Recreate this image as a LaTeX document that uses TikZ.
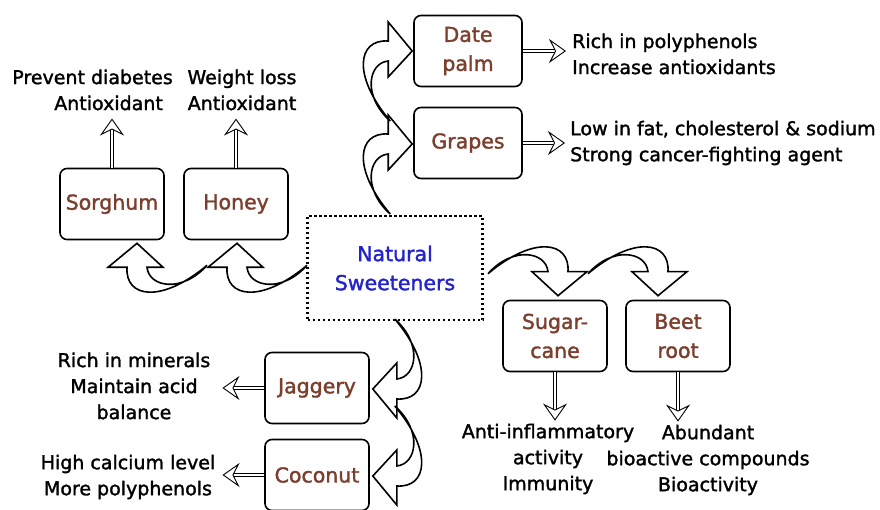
\documentclass[tikz,border=0pt]{standalone}
\usepackage{fontspec}
\setmainfont{DejaVu Sans}[FakeBold=1.6]
\usetikzlibrary{arrows.meta,positioning,calc}
\definecolor{nsbrown}{HTML}{7B3F2E}
\definecolor{nsblue}{HTML}{2323CC}

\tikzset{
  food/.style={draw, line width=1.6pt, rounded corners=7pt, fill=white,
    minimum width=104pt, minimum height=71pt, inner sep=2pt,
    text=nsbrown, align=center, font=\fontsize{20.5}{29}\selectfont},
  effect/.style={inner sep=0pt, align=center, font=\fontsize{19}{26}\selectfont},
  shaftout/.style={draw=black, line width=4.8pt, shorten >=11pt},
  shaftin/.style={draw=white, line width=2.8pt, shorten >=10pt},
  shafttip/.style={draw=white, line width=0.2pt,
    -{Stealth[length=17pt, width=24pt, inset=6pt, line width=0.9pt, color=black, fill=white]}},
  bendarrow/.style={draw, line width=1.6pt, fill=white, line join=miter},
  pics/bend/.style={code={
    \draw[bendarrow] (0,0) -- (26,24) -- (10,24)
      .. controls (12,44) and (45,50) .. (70,22)
      .. controls (25,60) and (-12,55) .. (-10,24) -- (-29,24) -- cycle;
  }},
}
\newcommand{\thinarrow}[2]{%
  \draw[shaftout] (#1) -- (#2);
  \draw[shaftin] (#1) -- (#2);
  \draw[shafttip] (#1) -- (#2);}

\begin{document}
\begin{tikzpicture}[x=1pt, y=-1pt, line cap=butt]
\path[use as bounding box, fill=white] (0,0) rectangle (880,510);
\clip (0,0) rectangle (880,510);

% ---------- centre ----------
\node[draw, line width=2.2pt, dash pattern=on 2.2pt off 2.8pt, minimum width=175pt, minimum height=104pt,
  align=center, text=nsblue, font=\fontsize{20.5}{29}\selectfont] (sweeteners) at (395,268) {Natural\\Sweeteners};

% ---------- sources ----------
\node[food] (sorghum) at (112,204) {Sorghum};
\node[food] (honey) at (236,204) {Honey};
\node[food, minimum width=108pt] (datepalm) at (468,51) {Date\\palm};
\node[food, minimum width=108pt] (grapes) at (468,143) {Grapes};
\node[food] (sugarcane) at (555,336) {Sugar-\\cane};
\node[food] (beetroot) at (678,336) {Beet\\root};
\node[food] (jaggery) at (317,388) {Jaggery};
\node[food] (coconut) at (317,475) {Coconut};

% ---------- benefits ----------
\node[effect, align=right, anchor=east] (sorgtxt) at (173,90) {Prevent diabetes\\Antioxidant\hspace*{10pt}};
\node[effect] (honeytxt) at (242,90) {Weight loss\\Antioxidant};
\node[effect, align=left, anchor=west] (datetxt) at (572,54) {Rich in polyphenols\\Increase antioxidants};
\node[effect, align=left, anchor=west] (grapetxt) at (570,143) {Low in fat, cholesterol \& sodium\\Strong cancer-fighting agent};
\node[effect] (jaggtxt) at (134,386) {Rich in minerals\\Maintain acid\\balance};
\node[effect] (cocotxt) at (128,477) {High calcium level\\More polyphenols};
\node[effect] (sugartxt) at (548,459) {Anti-inflammatory\\activity\\Immunity};
\node[effect] (beettxt) at (708,460) {Abundant\\bioactive compounds\\Bioactivity};

% ---------- double arrows ----------
\thinarrow{sorghum.north}{$(sorghum.north |- sorgtxt.south)+(0,8)$}
\thinarrow{honey.north}{$(honey.north |- honeytxt.south)+(0,8)$}
\thinarrow{datepalm.east}{$(datepalm.east -| datetxt.west)+(-6,0)$}
\thinarrow{grapes.east}{$(grapes.east -| grapetxt.west)+(-5,0)$}
\thinarrow{jaggery.west}{$(jaggery.west -| jaggtxt.east)+(12,0)$}
\thinarrow{coconut.west}{$(coconut.west -| cocotxt.east)+(7,0)$}
\thinarrow{sugarcane.south}{$(sugarcane.south |- sugartxt.north)+(0,-3)$}
\thinarrow{beetroot.south}{$(beetroot.south |- beettxt.north)+(0,-3)$}

% ---------- curved arrows ----------
\pic at ([shift={(25,3)}]sorghum.south) {bend};
\pic at ([shift={(1,3)}]honey.south) {bend};
\pic[rotate=-90] at ([shift={(-1,1)}]grapes.west) {bend};
\pic[rotate=-90] at ([shift={(-1,0)}]datepalm.west) {bend};
\pic[rotate=180] at ([shift={(3,-4)}]sugarcane.north) {bend};
\pic[rotate=180] at ([shift={(-20,-4)}]beetroot.north) {bend};
\pic[rotate=90] at ([shift={(3,1)}]jaggery.east) {bend};
\pic[rotate=90] at ([shift={(3,1)}]coconut.east) {bend};
\end{tikzpicture}
\end{document}
